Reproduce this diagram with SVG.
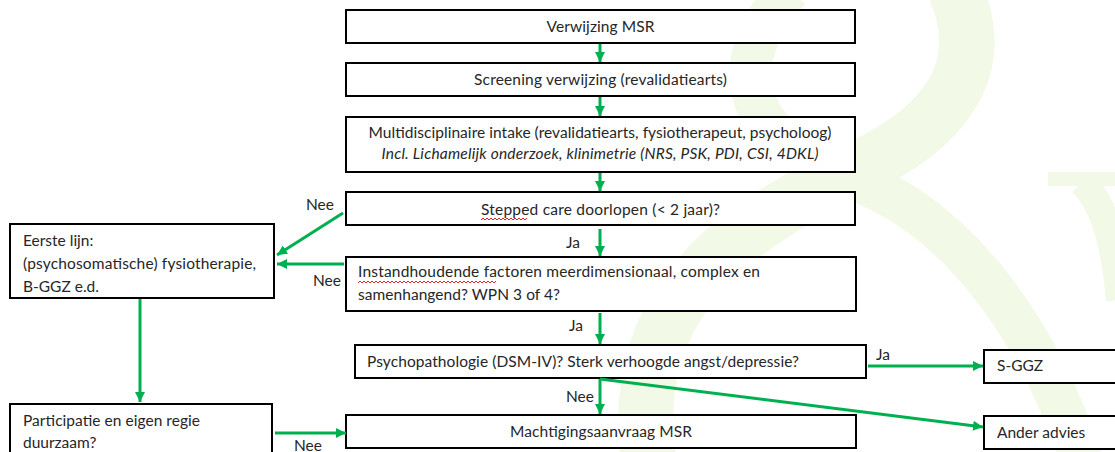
<svg xmlns="http://www.w3.org/2000/svg" width="1115" height="452" viewBox="0 0 1115 452">
<style>
.box{fill:#fff;stroke:#000;stroke-width:2}
.t{font-family:Lato,"Liberation Sans",sans-serif;font-size:15.5px;fill:#262626}
.c{text-anchor:middle}
.i{font-style:italic}
.bg{fill:none;stroke:#f2f9e6}
.conn line{stroke:#00b050;stroke-width:3;marker-end:url(#ah)}
.sq{fill:none;stroke:#e02020;stroke-width:1}
</style>
<defs>
<marker id="ah" markerUnits="userSpaceOnUse" markerWidth="12" markerHeight="12" refX="10" refY="6" orient="auto" viewBox="0 0 12 12">
<path d="M0,1 L10,6 L0,11 z" fill="#00b050"/>
</marker>
</defs>
<rect width="1115" height="452" fill="#fff"/>
<g id="background">
<path class="bg" stroke-width="55" d="M955 -10 C990 70 945 130 850 172 C710 238 625 320 650 470"/>
<path class="bg" stroke-width="42" d="M790 -10 C725 60 735 140 860 182 C960 222 1040 330 1085 470"/>
<rect x="1048" y="172" width="70" height="14" fill="#f2f9e6"/>
<path class="bg" stroke-width="28" d="M1082 182 C1105 205 1115 245 1120 300"/>
</g>
<g id="n1"><rect class="box" x="346" y="10" width="509" height="33"/><text class="t c" x="600.5" y="32" textLength="108" lengthAdjust="spacing">Verwijzing MSR</text></g>
<g id="n2"><rect class="box" x="346" y="63" width="509" height="33"/><text class="t c" x="600.5" y="85" textLength="253" lengthAdjust="spacing">Screening verwijzing (revalidatiearts)</text></g>
<g id="n3"><rect class="box" x="346" y="117" width="509" height="55"/>
<text class="t c" x="600" y="138" textLength="463" lengthAdjust="spacing">Multidisciplinaire intake (revalidatiearts, fysiotherapeut, psycholoog)</text>
<text class="t c i" x="600" y="159" textLength="437" lengthAdjust="spacing">Incl. Lichamelijk onderzoek, klinimetrie (NRS, PSK, PDI, CSI, 4DKL)</text></g>
<g id="n4"><rect class="box" x="346" y="192" width="509" height="33"/><text class="t c" x="600.5" y="215" textLength="239" lengthAdjust="spacing">Stepped care doorlopen (&lt; 2 jaar)?</text>
<path class="sq" d="M481 220 l2 -2 l2 2 l2 -2 l2 2 l2 -2 l2 2 l2 -2 l2 2 l2 -2 l2 2 l2 -2 l2 2 l2 -2 l2 2 l2 -2 l2 2 l2 -2 l2 2 l2 -2 l2 2 l2 -2 l2 2 l2 -2"/></g>
<g id="n5"><rect class="box" x="346" y="257" width="510" height="54"/>
<text class="t" x="358" y="277" textLength="402" lengthAdjust="spacing">Instandhoudende factoren meerdimensionaal, complex en</text>
<text class="t" x="358" y="300" textLength="202" lengthAdjust="spacing">samenhangend? WPN 3 of 4?</text>
<path class="sq" d="M358 283 l2 -2 l2 2 l2 -2 l2 2 l2 -2 l2 2 l2 -2 l2 2 l2 -2 l2 2 l2 -2 l2 2 l2 -2 l2 2 l2 -2 l2 2 l2 -2 l2 2 l2 -2 l2 2 l2 -2 l2 2 l2 -2 l2 2 l2 -2 l2 2 l2 -2 l2 2 l2 -2 l2 2 l2 -2 l2 2 l2 -2 l2 2 l2 -2 l2 2 l2 -2 l2 2 l2 -2 l2 2 l2 -2 l2 2 l2 -2 l2 2 l2 -2 l2 2 l2 -2 l2 2 l2 -2 l2 2 l2 -2 l2 2 l2 -2 l2 2 l2 -2 l2 2 l2 -2 l2 2 l2 -2 l2 2 l2 -2 l2 2 l2 -2 l2 2 l2 -2 l2 2 l2 -2 l2 2 l2 -2"/></g>
<g id="n6"><rect class="box" x="355" y="345" width="511" height="33"/><text class="t" x="367" y="367" textLength="432" lengthAdjust="spacing">Psychopathologie (DSM-IV)? Sterk verhoogde angst/depressie?</text></g>
<g id="n7"><rect class="box" x="346" y="415" width="510" height="33"/><text class="t c" x="601" y="437" textLength="182" lengthAdjust="spacing">Machtigingsaanvraag MSR</text></g>
<g id="n8"><rect class="box" x="984" y="350" width="140" height="33"/><text class="t" x="997" y="371">S-GGZ</text></g>
<g id="n9"><rect class="box" x="984" y="416" width="140" height="33"/><text class="t" x="997" y="438">Ander advies</text></g>
<g id="n10"><rect class="box" x="10" y="224" width="264" height="74"/>
<text class="t" x="23" y="246">Eerste lijn:</text>
<text class="t" x="23" y="269" textLength="233" lengthAdjust="spacing">(psychosomatische) fysiotherapie,</text>
<text class="t" x="23" y="292">B-GGZ e.d.</text></g>
<g id="n11"><rect class="box" x="10" y="404" width="262" height="60"/>
<text class="t" x="23" y="426" textLength="177" lengthAdjust="spacing">Participatie en eigen regie</text>
<text class="t" x="23" y="448">duurzaam?</text></g>
<g id="connectors" class="conn">
<line x1="600" y1="44" x2="600" y2="62"/>
<line x1="600" y1="97" x2="600" y2="116"/>
<line x1="600" y1="173" x2="600" y2="191"/>
<line x1="600" y1="229" x2="600" y2="256"/>
<line x1="600" y1="313" x2="600" y2="344"/>
<line x1="600" y1="379" x2="600" y2="414"/>
<line x1="600" y1="379" x2="983" y2="427"/>
<line x1="868" y1="366" x2="983" y2="366"/>
<line x1="343" y1="213" x2="277" y2="255"/>
<line x1="344" y1="264" x2="277" y2="264"/>
<line x1="140" y1="299" x2="140" y2="402"/>
<line x1="275" y1="433" x2="346" y2="433"/>
</g>
<g id="labels">
<text class="t" x="306" y="210">Nee</text>
<text class="t" x="313" y="286">Nee</text>
<text class="t" x="566" y="248">Ja</text>
<text class="t" x="569" y="331">Ja</text>
<text class="t" x="876" y="360">Ja</text>
<text class="t" x="566" y="402">Nee</text>
<text class="t" x="294" y="451">Nee</text>
</g>
</svg>
